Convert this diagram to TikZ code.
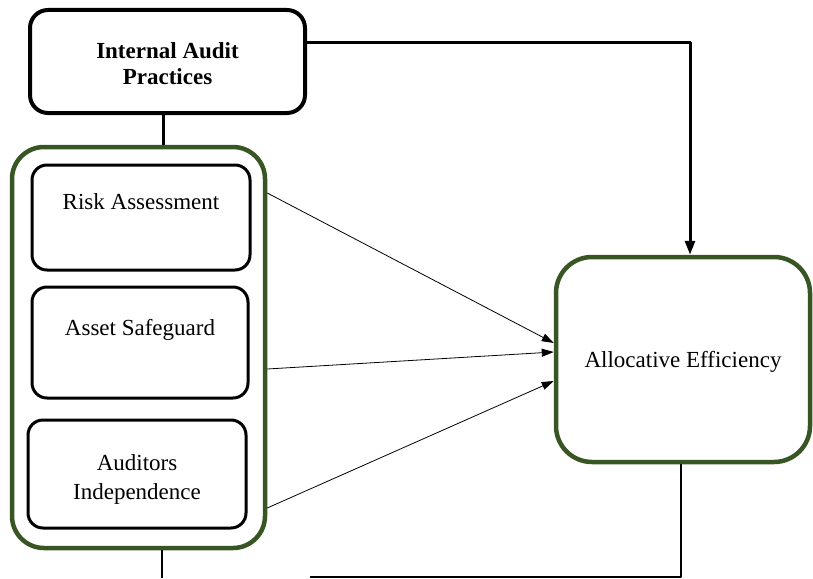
\documentclass[tikz,border=0pt]{standalone}
\usepackage{fontspec}
\setmainfont{Liberation Serif}
\usetikzlibrary{arrows.meta}
\definecolor{framegreen}{RGB}{56,86,35}
\begin{document}
\begin{tikzpicture}[x=1pt,y=-1pt,line join=round,>={Triangle[length=12pt,width=8pt]},font=\fontsize{23}{29}\selectfont]
	\tikzset{blackbox/.style={draw=black,line width=3pt,rounded corners=15pt,fill=white,inner sep=0pt},
		greenbox/.style={draw=framegreen,line width=4.5pt,rounded corners=32pt,inner sep=0pt},
		conn/.style={line width=2.5pt},
		thinarrow/.style={line width=0.8pt,->}}
	\useasboundingbox (0,0) rectangle (813,578);
	\node[blackbox,line width=4pt,rounded corners=18pt,minimum width=275pt,minimum height=103pt] (iap) at (167.5,61.5) {};
	\node[greenbox,minimum width=253pt,minimum height=401pt] (ia) at (138.5,347.5) {};
	\node[blackbox,minimum width=218pt,minimum height=105pt] (risk) at (141,217.5) {};
	\node[blackbox,minimum width=216pt,minimum height=111pt] (asset) at (140,342.5) {};
	\node[blackbox,minimum width=218pt,minimum height=108pt] (indep) at (137,474) {};
	\node[greenbox,rounded corners=36pt,minimum width=254pt,minimum height=205pt,text depth=0pt] (ae) at (683,359.5) {Allocative Efficiency};
	\node[align=center,font=\fontsize{23}{26}\selectfont\bfseries] (iaplbl) at ([yshift=-2pt]iap.center) {Internal Audit\\Practices};
	\node (risklbl) at ([yshift=15.5pt]risk.center) {Risk Assessment};
	\node (assetlbl) at ([yshift=13pt]asset.center) {Asset Safeguard};
	\node[align=center] (indeplbl) at ([yshift=-5.5pt]indep.center) {Auditors\\Independence};
	\draw[conn,line width=3pt] ([xshift=-4.5pt]iap.south) -- ([xshift=24.5pt]ia.north);
	\draw[conn,line width=3pt,->,>={Triangle[length=14pt,width=10pt]}] ([yshift=18.5pt]iap.east) -| ([xshift=7pt]ae.north);
	\draw[thinarrow] (ia.east |- 0,193) -- (ae.west |- 0,343);
	\draw[thinarrow] (ia.east |- 0,369) -- (ae.west |- 0,352);
	\draw[thinarrow] (ia.east |- 0,508) -- (ae.west |- 0,381);
	\coordinate (iacut) at (162,578);
	\coordinate (aecorner) at (681,577);
	\coordinate (aecut) at (310,577);
	\draw[conn] ([xshift=23.5pt]ia.south) -- (iacut);
	\draw[conn] ([xshift=-2pt]ae.south) -- (aecorner) -- (aecut);
\end{tikzpicture}
\end{document}
